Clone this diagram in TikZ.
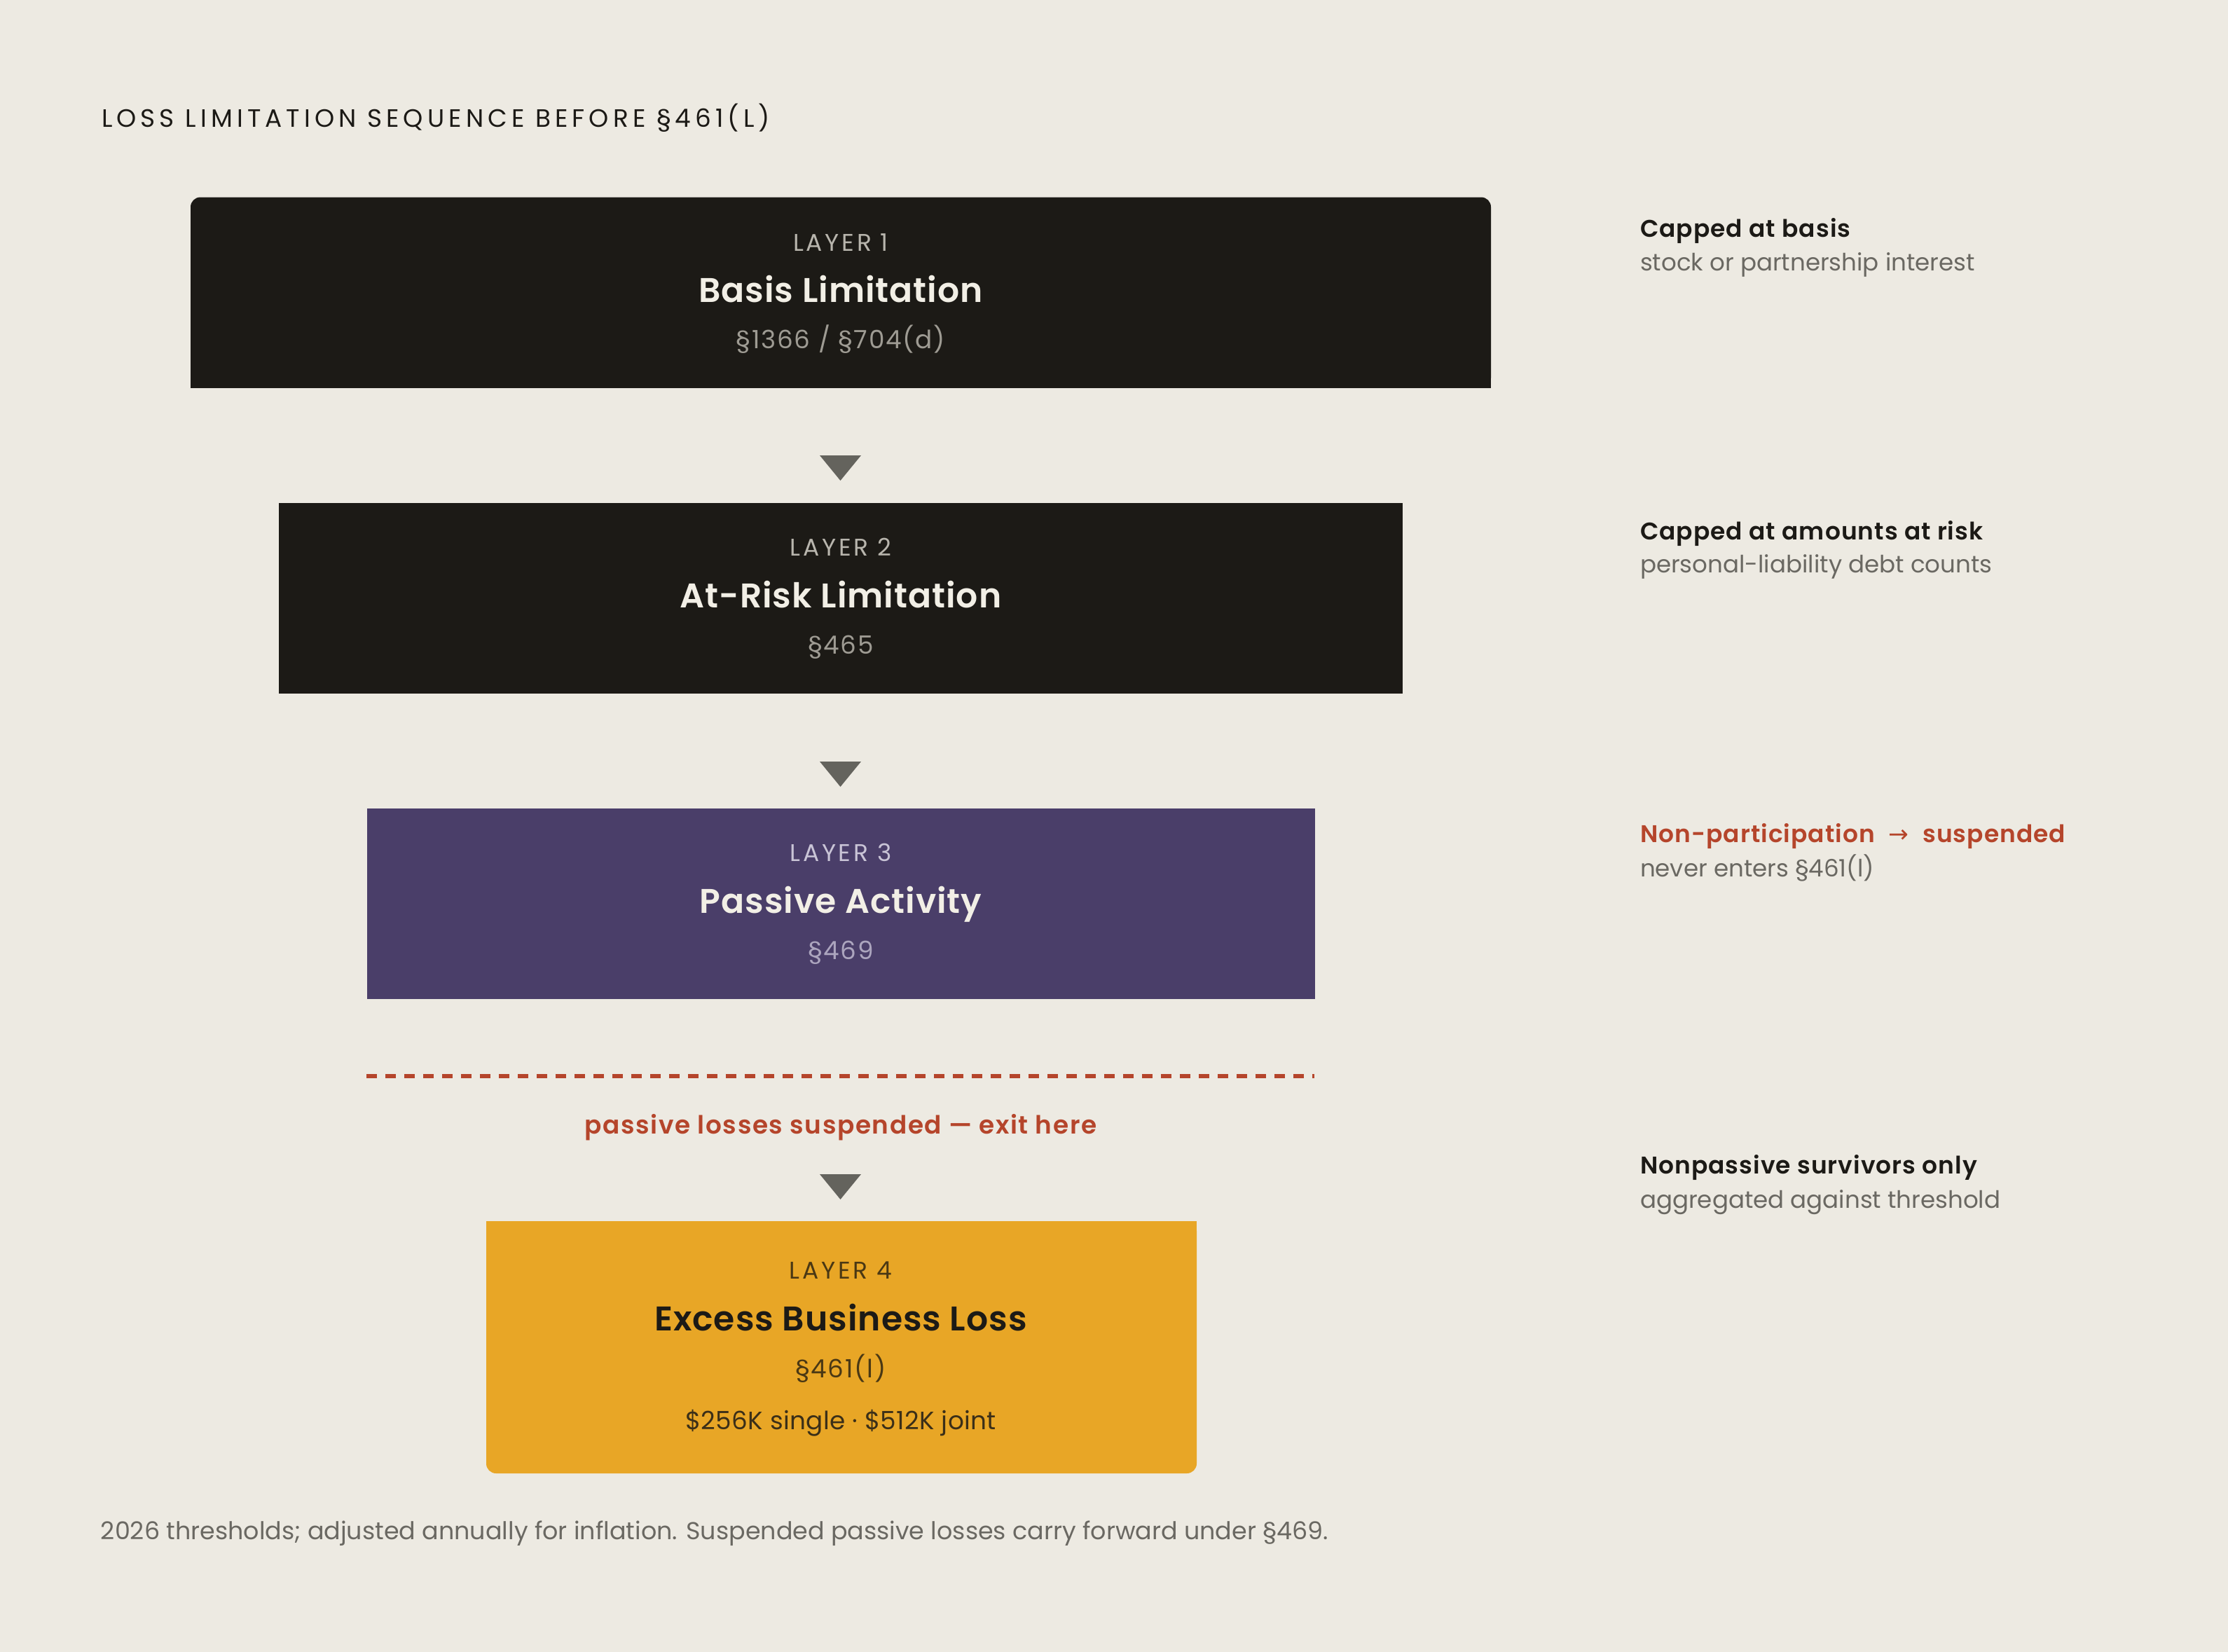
\documentclass[tikz,border=0pt]{standalone}
\usepackage{fontspec}
\setmainfont{Poppins}[BoldFont={Poppins SemiBold}]
\newfontfamily\symfont{DejaVu Sans}
\usetikzlibrary{positioning,calc}

\definecolor{paper}{HTML}{EDEAE2}
\definecolor{ink}{HTML}{1C1A16}
\definecolor{plum}{HTML}{4A3E69}
\definecolor{gold}{HTML}{E8A626}
\definecolor{tri}{HTML}{64635D}
\definecolor{rust}{HTML}{B5452B}
\definecolor{cream}{HTML}{F2EFE6}
\definecolor{fog}{HTML}{B8B5AD}
\definecolor{ash}{HTML}{9E9B93}
\definecolor{lilac}{HTML}{C9C4D6}
\definecolor{lilacdim}{HTML}{ACA5BE}
\definecolor{umber}{HTML}{4A3814}
\definecolor{slate}{HTML}{6A6862}

\tikzset{
    layerbox/.style={minimum width=#1, minimum height=2.72cm, inner sep=0pt, outer sep=0pt},
    txt/.style={inner sep=0pt, outer sep=0pt},
    tag/.style={txt, anchor=base, font=\fontsize{9.8}{11}\selectfont\addfontfeatures{LetterSpace=11}},
    boxtitle/.style={txt, anchor=base, font=\fontsize{13.9}{15}\bfseries\addfontfeatures{LetterSpace=2}},
    ref/.style={txt, anchor=base, font=\fontsize{10.2}{12}\selectfont\addfontfeatures{LetterSpace=5}},
    amount/.style={txt, anchor=base, font=\fontsize{10.2}{12}\selectfont\addfontfeatures{LetterSpace=1}},
    notehead/.style={txt, anchor=base west, font=\fontsize{9.8}{11}\bfseries\addfontfeatures{LetterSpace=3}},
    notesub/.style={txt, anchor=base west, text=slate, font=\fontsize{9.7}{11}\selectfont},
    arrowhead/.style={fill=tri},
    cutline/.style={draw=rust, line width=0.055cm, dash pattern=on 0.15cm off 0.12cm},
}

\begin{document}
\begin{tikzpicture}[y=-1cm]
    \fill[paper] (0,0) rectangle (31.8,23.58);
    \useasboundingbox (0,0) rectangle (31.8,23.58);

    % heading
    \node[txt, anchor=base west, text=ink, font=\fontsize{10.2}{12}\selectfont\addfontfeatures{LetterSpace=17}]
        (heading) at (1.45,1.81) {LOSS LIMITATION SEQUENCE BEFORE §461(L)};

    % layer boxes
    \node[layerbox=18.56cm, fill=ink, rounded corners=0.14cm] (basis)   at (12.00,4.175) {};
    \fill[ink] (basis.west) rectangle (basis.south east);
    \node[layerbox=16.04cm, fill=ink]   (atrisk)  at (12.00,8.535) {};
    \node[layerbox=13.53cm, fill=plum]  (passive) at (12.00,12.895) {};
    \node[layerbox=10.14cm, fill=gold, minimum height=3.60cm, rounded corners=0.14cm] (excess) at (12.01,19.23) {};
    \fill[gold] (excess.north west) rectangle (excess.east);

    % box texts
    \node[tag, text=fog]        (basisTag)   at (12.00,3.58) {LAYER 1};
    \node[boxtitle, text=cream] (basisName)  at (12.00,4.31) {Basis Limitation};
    \node[ref, text=ash]        (basisRef)   at (12.00,4.97) {§1366 / §704(d)};

    \node[tag, text=fog]        (atriskTag)  at (12.00,7.93) {LAYER 2};
    \node[boxtitle, text=cream] (atriskName) at (12.00,8.67) {At-Risk Limitation};
    \node[ref, text=ash]        (atriskRef)  at (12.00,9.33) {§465};

    \node[tag, text=lilac]      (passiveTag)  at (12.00,12.29) {LAYER 3};
    \node[boxtitle, text=cream] (passiveName) at (12.00,13.03) {Passive Activity};
    \node[ref, text=lilacdim]   (passiveRef)  at (12.00,13.69) {§469};

    \node[tag, text=umber]      (excessTag)  at (12.00,18.25) {LAYER 4};
    \node[boxtitle, text=ink]   (excessName) at (12.00,18.99) {Excess Business Loss};
    \node[ref, text=umber]      (excessRef)  at (12.00,19.66) {§461(l)};
    \node[amount, text=ink!85!gold] (excessAmt) at (12.00,20.40) {\$256K single · \$512K joint};

    % arrowheads
    \foreach \ty in {6.50, 10.87, 16.76}
        \fill[arrowhead] (11.70,\ty) -- ++(0.59,0) -- ++(-0.295,0.36) -- cycle;

    % exit line
    \coordinate (cutL) at (5.23,15.36);
    \coordinate (cutR) at (18.76,15.36);
    \draw[cutline] (cutL) -- (cutR);
    \node[txt, anchor=base, text=rust, font=\fontsize{10.2}{12}\bfseries\addfontfeatures{LetterSpace=4.5}]
        (exitNote) at (12.00,16.18) {passive losses suspended — exit here};

    % side notes
    \node[notehead, text=ink]  (basisHead)   at (23.41,3.38)  {Capped at basis};
    \node[notesub]             (basisSub)    at (23.41,3.86)  {stock or partnership interest};
    \node[notehead, text=ink]  (atriskHead)  at (23.41,7.70)  {Capped at amounts at risk};
    \node[notesub]             (atriskSub)   at (23.41,8.17)  {personal-liability debt counts};
    \node[notehead, text=rust] (passiveHead) at (23.41,12.02) {Non-participation\hspace{3pt} {\symfont\mdseries →}\hspace{3pt} suspended};
    \node[notesub]             (passiveSub)  at (23.41,12.51) {never enters §461(l)};
    \node[notehead, text=ink]  (excessHead)  at (23.41,16.75) {Nonpassive survivors only};
    \node[notesub]             (excessSub)   at (23.41,17.24) {aggregated against threshold};

    % footnote
    \node[txt, anchor=base west, text=slate, font=\fontsize{9.93}{12}\selectfont]
        (footnote) at (1.44,21.97) {2026 thresholds; adjusted annually for inflation. Suspended passive losses carry forward under §469.};
\end{tikzpicture}
\end{document}
